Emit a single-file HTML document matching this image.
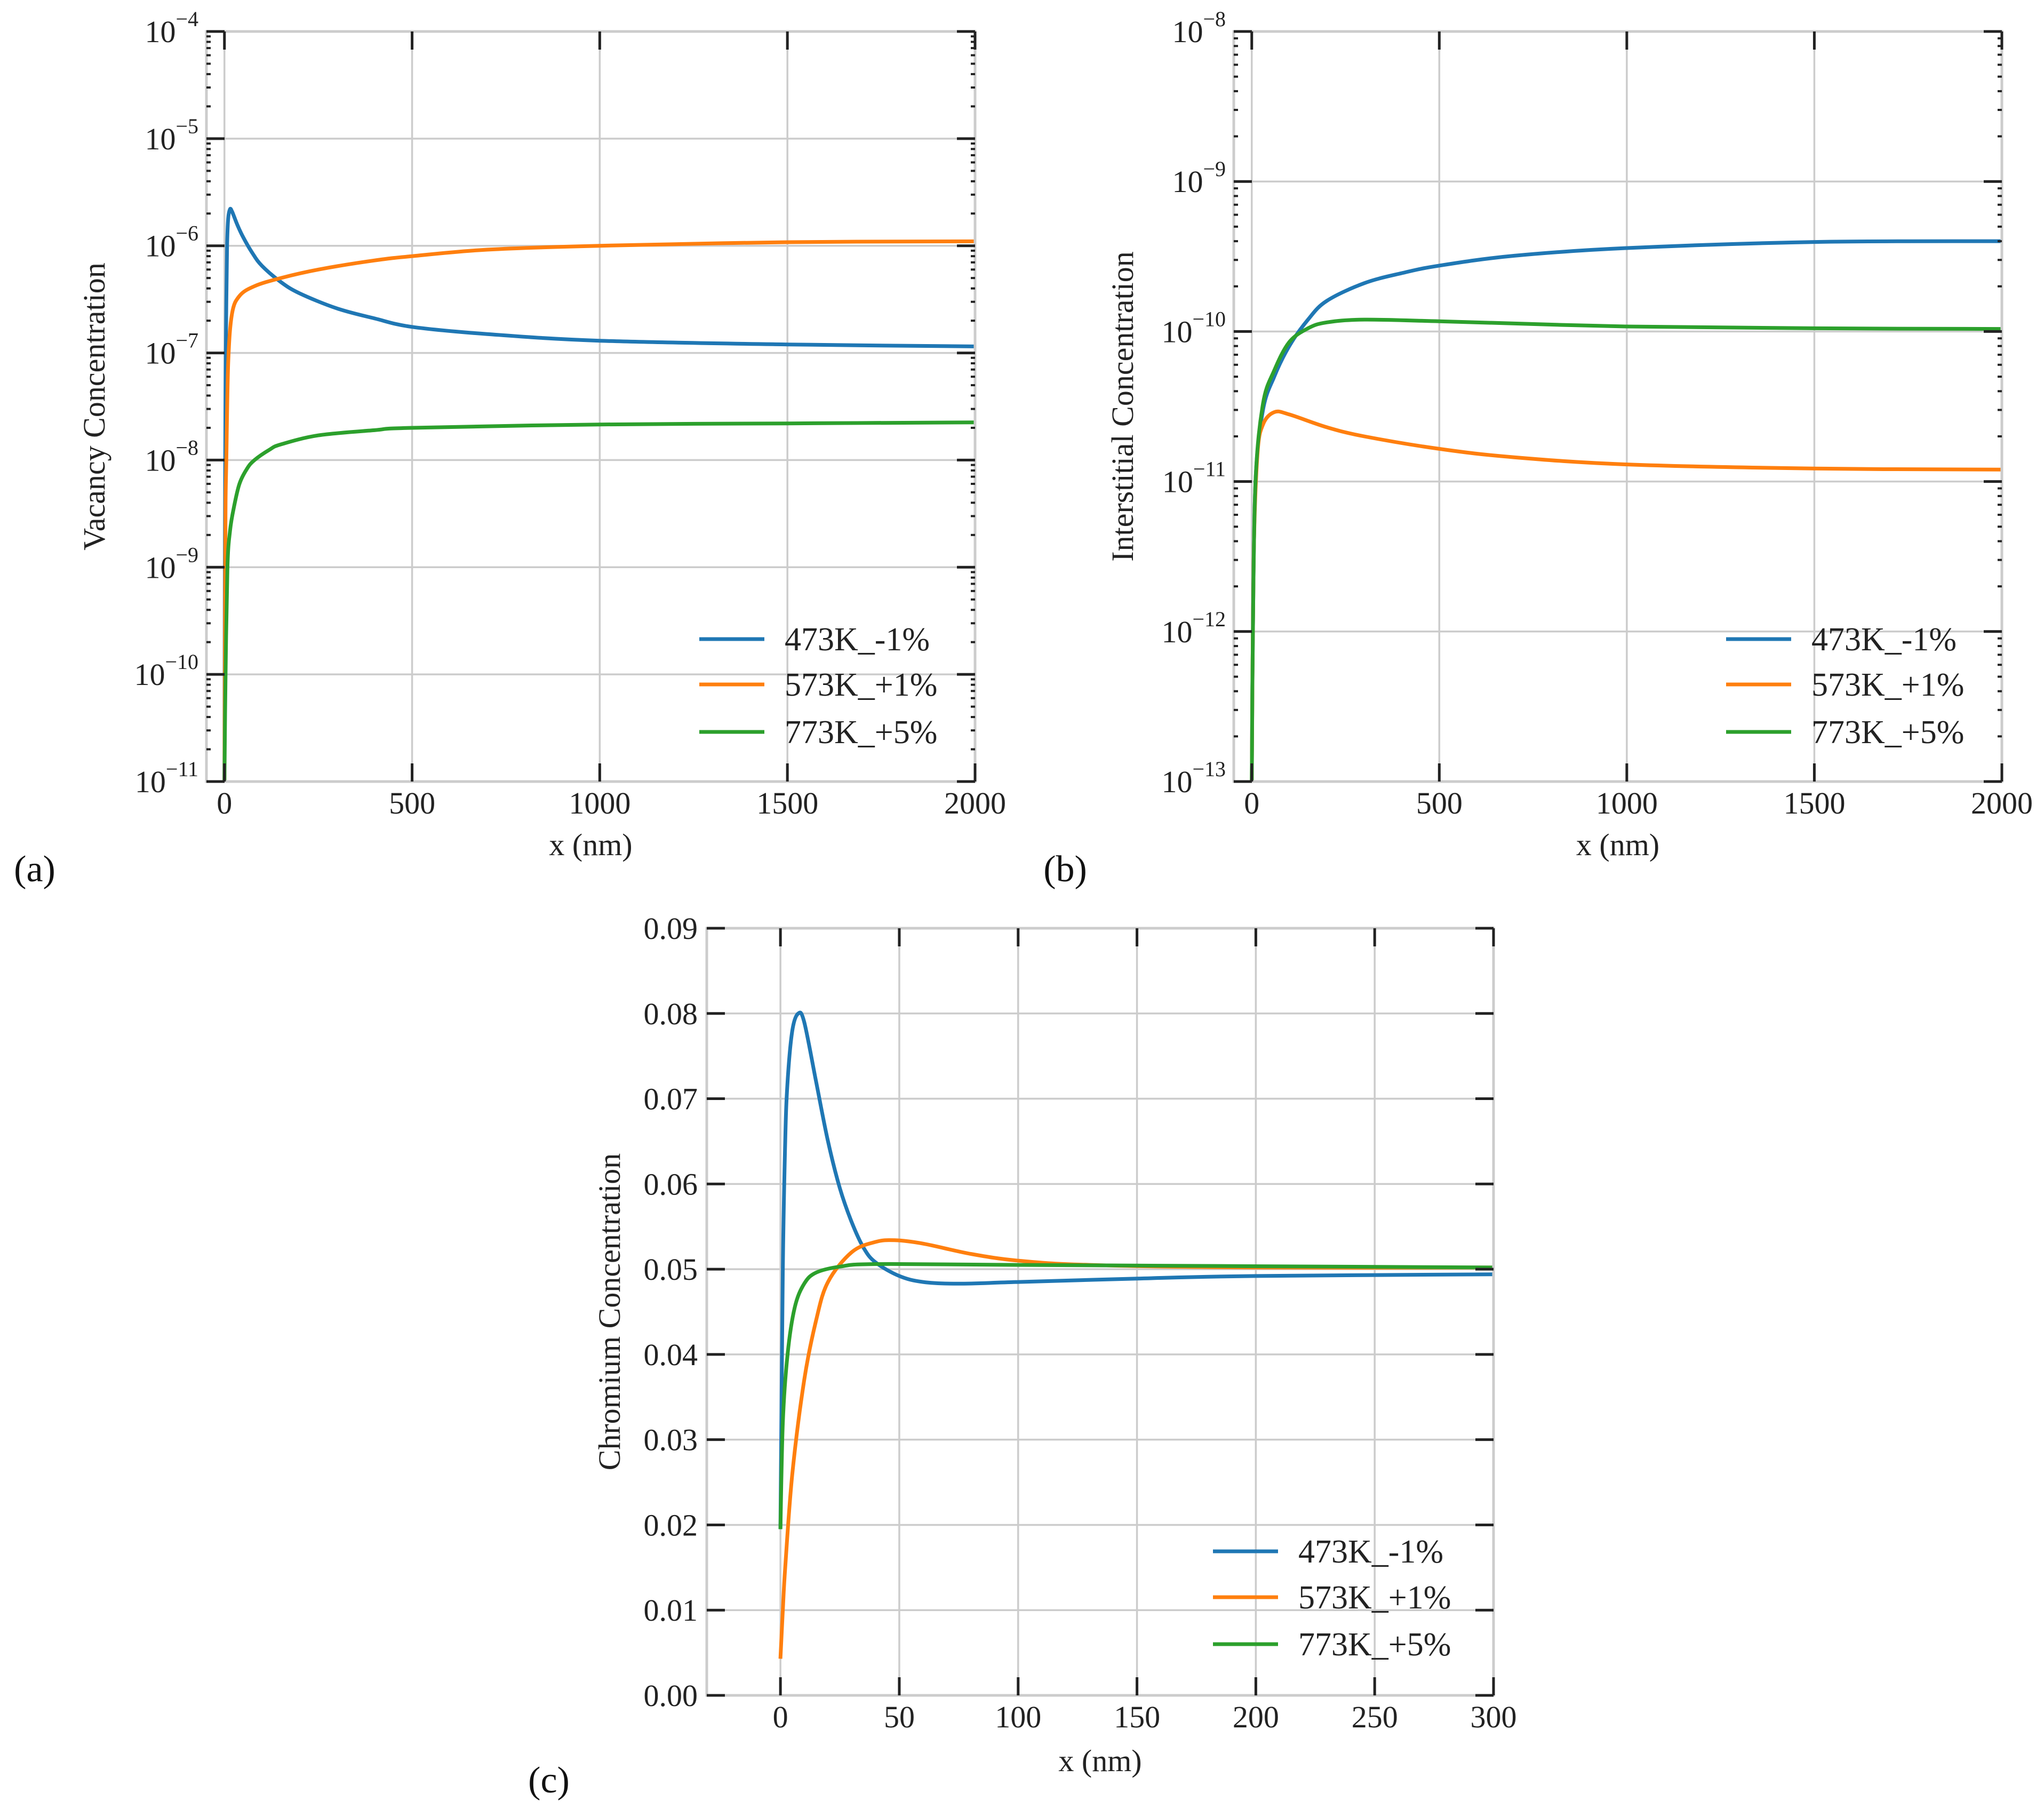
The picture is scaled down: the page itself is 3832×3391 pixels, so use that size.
<!DOCTYPE html>
<html><head><meta charset="utf-8"><style>
html,body{margin:0;padding:0;background:#fff;}
svg{display:block;font-family:"Liberation Serif",serif;}
</style></head>
<body>
<svg id="fig" width="3832" height="3391" viewBox="0 0 3832 3391" xmlns="http://www.w3.org/2000/svg"></svg>
<script>
// ---------- data ----------
const seriesNames = ["473K_-1%", "573K_+1%", "773K_+5%"];
const seriesColors = ["#1f77b4", "#ff7f0e", "#2ca02c"];
// panel (a) vacancy
const aBlueX = [0,1,2,3,5,7,10,15,20,25,35,50,75,100,150,200,300,400,500,700,1000,1500,2000];
const aBlueY = [1e-11,1e-9,1e-8,5e-8,3e-7,1e-6,1.8e-6,2.2e-6,2.1e-6,1.9e-6,1.55e-6,1.2e-6,8.5e-7,6.5e-7,4.6e-7,3.6e-7,2.6e-7,2.1e-7,1.75e-7,1.5e-7,1.3e-7,1.2e-7,1.15e-7];
const aOrangeX = [0,1,2,3,5,10,20,40,80,150,250,400,500,700,1000,1500,2000];
const aOrangeY = [1e-11,1e-10,1e-9,4e-9,1e-8,8e-8,2.3e-7,3.4e-7,4.2e-7,5e-7,6e-7,7.3e-7,8e-7,9.2e-7,1.0e-6,1.08e-6,1.1e-6];
const aGreenX = [0,3,8,15,25,40,60,80,120,150,250,400,500,1000,1500,2000];
const aGreenY = [1e-11,1e-10,1e-9,2.2e-9,3.6e-9,6e-9,8.3e-9,1e-8,1.25e-8,1.4e-8,1.7e-8,1.9e-8,2e-8,2.15e-8,2.2e-8,2.25e-8];
// panel (b) interstitial
const bBlueX = [0,3,10,30,60,100,150,200,300,400,500,700,1000,1500,2000];
const bBlueY = [1e-13,1e-12,1e-11,3e-11,5e-11,8e-11,1.2e-10,1.6e-10,2.1e-10,2.45e-10,2.75e-10,3.2e-10,3.6e-10,3.95e-10,4e-10];
const bOrangeX = [0,5,15,30,60,100,200,300,500,700,1000,1500,2000];
const bOrangeY = [1e-13,3e-12,1.5e-11,2.4e-11,2.9e-11,2.8e-11,2.3e-11,2e-11,1.65e-11,1.45e-11,1.3e-11,1.22e-11,1.2e-11];
const bGreenX = [0,3,10,30,60,100,150,200,300,500,1000,1500,2000];
const bGreenY = [1e-13,1e-12,1e-11,3.3e-11,5.5e-11,8.5e-11,1.05e-10,1.15e-10,1.2e-10,1.17e-10,1.08e-10,1.05e-10,1.04e-10];
// panel (c) chromium
const cBlueX = [0,1,2,3,5,7.5,10,15,20,25,30,35,40,50,60,75,100,150,200,300];
const cBlueY = [0.0195,0.05,0.065,0.072,0.078,0.080,0.079,0.072,0.065,0.0595,0.0555,0.0525,0.0508,0.0492,0.0485,0.0483,0.0485,0.0489,0.0492,0.0494];
const cOrangeX = [0,1,2,5,10,15,20,30,40,48,60,80,100,130,200,300];
const cOrangeY = [0.0043,0.010,0.015,0.026,0.037,0.044,0.0485,0.052,0.0532,0.0534,0.053,0.0518,0.051,0.0505,0.0502,0.0502];
const cGreenX = [0,1,3,6,10,15,25,40,100,300];
const cGreenY = [0.0195,0.032,0.040,0.0455,0.0483,0.0496,0.0503,0.0506,0.0505,0.0502];
const xTicksAB = [0,500,1000,1500,2000];
const xTicksC = [0,50,100,150,200,250,300];
const yTicksA = [-11,-10,-9,-8,-7,-6,-5,-4];
const yTicksB = [-13,-12,-11,-10,-9,-8];
const yTicksC = [0,0.01,0.02,0.03,0.04,0.05,0.06,0.07,0.08,0.09];

// ---------- drawing ----------
const NS = "http://www.w3.org/2000/svg";
const svg = document.getElementById("fig");
function mk(tag, attrs, parent){const e=document.createElementNS(NS,tag);for(const k in attrs)e.setAttribute(k,attrs[k]);(parent||svg).appendChild(e);return e;}

function smoothPath(pts){
  let d="M"+pts[0][0].toFixed(1)+","+pts[0][1].toFixed(1);
  for(let i=0;i<pts.length-1;i++){
    const p0=pts[Math.max(0,i-1)],p1=pts[i],p2=pts[i+1],p3=pts[Math.min(pts.length-1,i+2)];
    const t=0.35;
    let c1=[p1[0]+(p2[0]-p0[0])*t/1.5/1.4, p1[1]+(p2[1]-p0[1])*t/1.5/1.4];
    let c2=[p2[0]-(p3[0]-p1[0])*t/1.5/1.4, p2[1]-(p3[1]-p1[1])*t/1.5/1.4];
    d+="C"+c1[0].toFixed(1)+","+c1[1].toFixed(1)+" "+c2[0].toFixed(1)+","+c2[1].toFixed(1)+" "+p2[0].toFixed(1)+","+p2[1].toFixed(1);
  }
  return d;
}

function panel(cfg){
  const g = mk("g",{});
  
  
  const L=cfg.L,R=cfg.R,T=cfg.T,B=cfg.B;
  const sx = v => L + (v - cfg.xmin)/(cfg.xmax-cfg.xmin)*(R-L);
  const sy = cfg.log ? (v => B - (Math.log10(v)-cfg.ymin)/(cfg.ymax-cfg.ymin)*(B-T))
                     : (v => B - (v-cfg.ymin)/(cfg.ymax-cfg.ymin)*(B-T));
  const syT = cfg.log ? (e => B - (e-cfg.ymin)/(cfg.ymax-cfg.ymin)*(B-T)) : sy;
  cfg.xticks.forEach(t=>{ const l=mk("line",{x1:sx(t),x2:sx(t),y1:T,y2:B,stroke:"#cccccc","stroke-width":3.5},g);   });
  cfg.yticks.forEach(t=>{ const l=mk("line",{x1:L,x2:R,y1:syT(t),y2:syT(t),stroke:"#cccccc","stroke-width":3.5},g);   });
  const clip = mk("clipPath",{id:cfg.name+"-clip"},g);
  mk("rect",{x:L,y:T-2,width:R-L,height:B-T+4},clip);
  cfg.series.forEach((s,i)=>{
    const pts = s.x.map((xv,j)=>[sx(xv), sy(s.y[j])]);
    const p = mk("path",{d:smoothPath(pts),fill:"none",stroke:seriesColors[i],"stroke-width":7,"stroke-linejoin":"round","clip-path":"url(#"+cfg.name+"-clip)"},g);
    
    
  });
  const sp = mk("rect",{x:L,y:T,width:R-L,height:B-T,fill:"none",stroke:"#cccccc","stroke-width":5},g);
  
  
  const tl=34;
  cfg.xticks.forEach(t=>{
    mk("line",{x1:sx(t),x2:sx(t),y1:B,y2:B-tl,stroke:"#222","stroke-width":5},g);
    mk("line",{x1:sx(t),x2:sx(t),y1:T,y2:T+tl,stroke:"#222","stroke-width":5},g);
    const tx = mk("text",{x:sx(t),y:cfg.xlabY,"font-size":58,"text-anchor":"middle",fill:"#222"},g);
    tx.textContent = t;
    
    
  });
  cfg.yticks.forEach(t=>{
    const y=syT(t);
    mk("line",{x1:L,x2:L+tl,y1:y,y2:y,stroke:"#222","stroke-width":5},g);
    mk("line",{x1:R,x2:R-tl,y1:y,y2:y,stroke:"#222","stroke-width":5},g);
    const tx = mk("text",{x:cfg.ylabX,y:y+20,"font-size":58,"text-anchor":"end",fill:"#222"},g);
    if(cfg.log){
      tx.textContent="10";
      const sup=mk("tspan",{dy:-30,"font-size":40},tx); sup.textContent="\u2212"+Math.abs(t);
    } else tx.textContent=t.toFixed(2);
    
    
  });
  if(cfg.log){
    for(let e=cfg.ymin;e<cfg.ymax;e++) for(let m=2;m<=9;m++){
      const y=syT(e+Math.log10(m));
      mk("line",{x1:L,x2:L+8,y1:y,y2:y,stroke:"#222","stroke-width":4},g);
      mk("line",{x1:R,x2:R-8,y1:y,y2:y,stroke:"#222","stroke-width":4},g);
    }
  }
  const xl = mk("text",{x:(L+R)/2,y:cfg.xTitleY,"font-size":58,"text-anchor":"middle",fill:"#222"},g);
  xl.textContent="x (nm)";
  
  
  const yl = mk("text",{x:0,y:0,"font-size":58,"text-anchor":"middle",fill:"#222",transform:"translate("+cfg.yTitleX+","+((T+B)/2)+") rotate(-90)"},g);
  yl.textContent=cfg.ytitle;
  
  
  const lg = mk("g",{},g);
  
  
  cfg.legRows.forEach((ry,i)=>{
    const e = mk("g",{},lg);
    
    
    mk("line",{x1:cfg.legX,x2:cfg.legX+122,y1:ry,y2:ry,stroke:seriesColors[i],"stroke-width":7},e);
    const t=mk("text",{x:cfg.legX+160,y:ry+21,"font-size":62,fill:"#222"},e);
    t.textContent=seriesNames[i];
  });
  const pl = mk("text",{x:cfg.panelX,y:cfg.panelY,"font-size":70,"text-anchor":"middle",fill:"#111"},g);
  pl.textContent=cfg.panelLabel;
  
  
}

panel({name:"vacancy-chart",L:387,R:1828,T:59,B:1465,xmin:-48,xmax:2000,log:true,ymin:-11,ymax:-4,
  xticks:xTicksAB,yticks:yTicksA,xlabY:1525,ylabX:372,xTitleY:1603,yTitleX:196,ytitle:"Vacancy Concentration",
  series:[{x:aBlueX,y:aBlueY},{x:aOrangeX,y:aOrangeY},{x:aGreenX,y:aGreenY}],
  legX:1311,legRows:[1198,1283,1372],panelLabel:"(a)",panelX:65,panelY:1652});
panel({name:"interstitial-chart",L:2313,R:3753,T:59,B:1465,xmin:-48,xmax:2000,log:true,ymin:-13,ymax:-8,
  xticks:xTicksAB,yticks:yTicksB,xlabY:1525,ylabX:2298,xTitleY:1603,yTitleX:2124,ytitle:"Interstitial Concentration",
  series:[{x:bBlueX,y:bBlueY},{x:bOrangeX,y:bOrangeY},{x:bGreenX,y:bGreenY}],
  legX:3236,legRows:[1198,1283,1372],panelLabel:"(b)",panelX:1997,panelY:1652});
panel({name:"chromium-chart",L:1325,R:2800,T:1740,B:3178,xmin:-31,xmax:300,log:false,ymin:0,ymax:0.09,
  xticks:xTicksC,yticks:yTicksC,xlabY:3238,ylabX:1308,xTitleY:3320,yTitleX:1162,ytitle:"Chromium Concentration",
  series:[{x:cBlueX,y:cBlueY},{x:cOrangeX,y:cOrangeY},{x:cGreenX,y:cGreenY}],
  legX:2274,legRows:[2908,2994,3082],panelLabel:"(c)",panelX:1029,panelY:3360});
</script>
</body></html>
